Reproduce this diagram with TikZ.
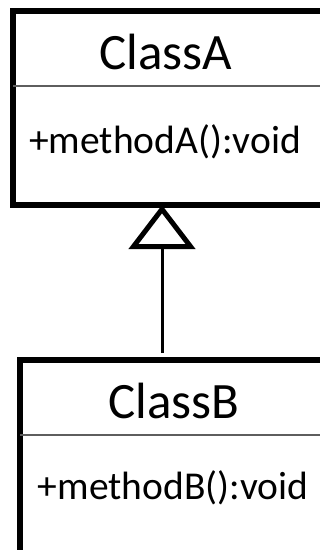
\documentclass[tikz,border=0pt]{standalone}
\usepackage{fontspec}
\setmainfont{Carlito}
\usetikzlibrary{arrows.meta}
\definecolor{negroL}{HTML}{000000}
\definecolor{grisDiv}{HTML}{5E5E5E}
\newcommand{\divisorClase}[2]{%
  \draw[grisDiv,line width=1.5pt] (#1.west |- 0,#2) -- (#1.east |- 0,#2);  % linea divisoria
}
\begin{document}
\begin{tikzpicture}[x=1pt,y=-1pt,
    caja/.style={draw=negroL,line width=6pt,outer sep=0pt,inner sep=0pt,anchor=north west},
    nombre/.style={font=\fontsize{51}{51}\selectfont,anchor=base},
    metodo/.style={font=\fontsize{39.5}{40}\selectfont,anchor=base},
    herencia/.style={draw=negroL,line width=3pt,shorten <=7pt,
      -{Triangle[open,length=44pt,width=66pt,line width=5pt]}}]
  \useasboundingbox (0,0) rectangle (320,550);
  \clip (0,0) rectangle (320,550);
  % clase A
  \node[caja,minimum width=309.5pt,minimum height=194pt] (claseA) at (13,11) {};
  \divisorClase{claseA}{86}
  \node[nombre] (nombreA) at (166,69) {ClassA};
  \node[metodo] (metodoA) at (165,153) {+methodA():void};
  % clase B
  \node[caja,minimum width=320pt,minimum height=250pt] (claseB) at (20,360) {};
  \divisorClase{claseB}{435}
  \node[nombre] (nombreB) at (174,418) {ClassB};
  \node[metodo] (metodoB) at (173,499) {+methodB():void};
  % herencia
  \coordinate (eje) at (162,0);
  \draw[herencia] (claseB.north -| eje) -- (claseA.south -| eje);
\end{tikzpicture}
\end{document}
